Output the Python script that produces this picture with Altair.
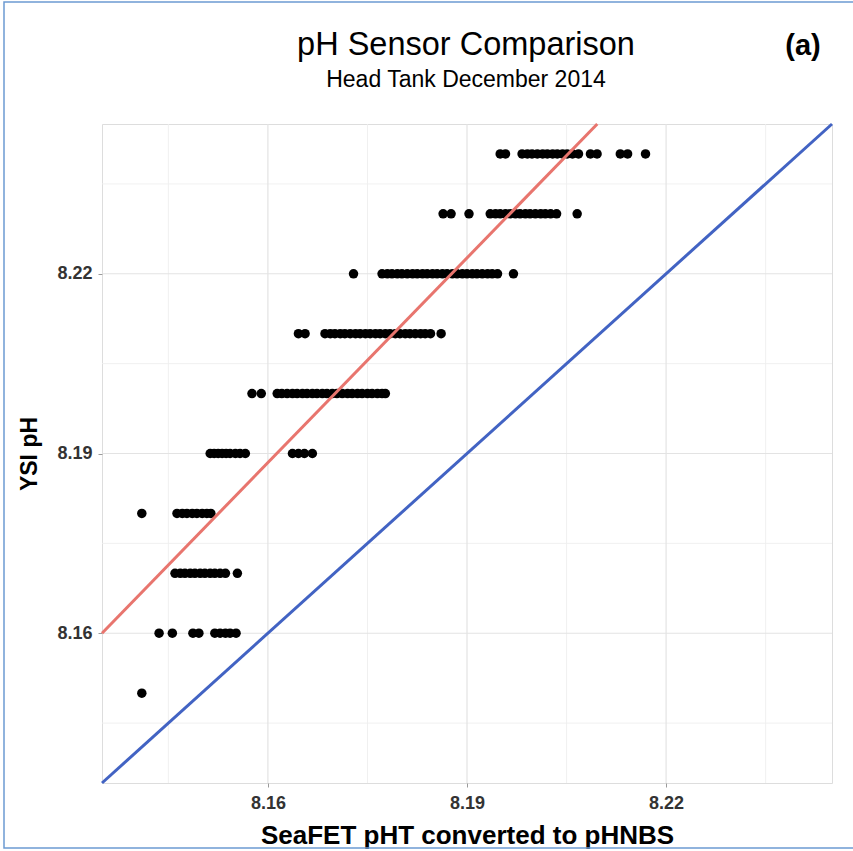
import altair as alt
import numpy as np
import pandas as pd

# YSI readings come in 0.01 steps; for each level, the SeaFET values (pHNBS) logged with it
ysi_levels = [8.24, 8.23, 8.22, 8.21, 8.20, 8.19, 8.18, 8.17, 8.16, 8.15]

seafet_824 = [8.1950, 8.1958, 8.1983, 8.1991, 8.1998, 8.2006, 8.2014, 8.2021, 8.2029, 8.2036,
              8.2044, 8.2051, 8.2059, 8.2068, 8.2086, 8.2096, 8.2131, 8.2142, 8.2169]
seafet_823 = [8.1864, 8.1876, 8.1903, 8.1935, 8.1943, 8.1950, 8.1958, 8.1965, 8.1973, 8.1980,
              8.1988, 8.1995, 8.2003, 8.2011, 8.2018, 8.2026, 8.2035, 8.2066]
seafet_822 = [8.1729, 8.1772, 8.1780, 8.1787, 8.1795, 8.1802, 8.1810, 8.1818, 8.1825, 8.1833,
              8.1840, 8.1848, 8.1855, 8.1863, 8.1870, 8.1878, 8.1885, 8.1893, 8.1900, 8.1908,
              8.1915, 8.1923, 8.1931, 8.1938, 8.1946, 8.1970]
seafet_821 = [8.1646, 8.1656, 8.1686, 8.1694, 8.1701, 8.1709, 8.1716, 8.1724, 8.1732, 8.1739,
              8.1747, 8.1754, 8.1762, 8.1769, 8.1777, 8.1784, 8.1792, 8.1799, 8.1807, 8.1814,
              8.1822, 8.1830, 8.1837, 8.1845, 8.1861]
seafet_820 = [8.1576, 8.1590, 8.1614, 8.1621, 8.1629, 8.1637, 8.1644, 8.1652, 8.1659, 8.1667,
              8.1674, 8.1682, 8.1689, 8.1697, 8.1704, 8.1712, 8.1720, 8.1727, 8.1735, 8.1742,
              8.1750, 8.1757, 8.1765, 8.1772, 8.1777]
seafet_819 = [8.1513, 8.1519, 8.1525, 8.1531, 8.1537, 8.1543, 8.1551, 8.1558, 8.1566,
              8.1637, 8.1646, 8.1655, 8.1667]
seafet_818 = [8.1410, 8.1463, 8.1471, 8.1478, 8.1486, 8.1493, 8.1501, 8.1508, 8.1514]
seafet_817 = [8.1460, 8.1468, 8.1475, 8.1483, 8.1490, 8.1498, 8.1505, 8.1513, 8.1520, 8.1528,
              8.1536, 8.1554]
seafet_816 = [8.1436, 8.1456, 8.1487, 8.1496, 8.1520, 8.1528, 8.1536, 8.1543, 8.1552]
seafet_815 = [8.1410]

seafet_rows = [seafet_824, seafet_823, seafet_822, seafet_821, seafet_820,
               seafet_819, seafet_818, seafet_817, seafet_816, seafet_815]

# Axis range, ticks and gridlines
axis_range = [8.135, 8.245]
major_ticks = [8.16, 8.19, 8.22]
minor_grid = [8.145, 8.175, 8.205, 8.235]

# Fitted relation (red): passes 8.16 at the left edge of the range
fit_anchor_x = 8.135
fit_anchor_y = 8.16
fit_slope = 1.139

points = pd.DataFrame(
    [(x, y) for y, row in zip(ysi_levels, seafet_rows) for x in row],
    columns=["seafet", "ysi"],
)

one_to_one = pd.DataFrame({"seafet": axis_range, "ysi": axis_range})

fit_x_end = fit_anchor_x + (axis_range[1] - fit_anchor_y) / fit_slope
fit_x = np.array([fit_anchor_x, fit_x_end])
fit_line = pd.DataFrame({"seafet": fit_x, "ysi": fit_anchor_y + fit_slope * (fit_x - fit_anchor_x)})

FONT = "Liberation Sans"
xs = alt.Scale(domain=axis_range, nice=False, zero=False)
ys = alt.Scale(domain=axis_range, nice=False, zero=False)

x_axis = alt.Axis(
    values=major_ticks, format=".2f", grid=False, domain=False,
    labelFont=FONT, labelFontSize=18, labelFontWeight="bold", labelColor="#333333",
    labelPadding=7, tickColor="#9a9a9a", tickSize=4,
    title="SeaFET pHT converted to pHNBS", titleFont=FONT, titleFontSize=26,
    titleFontWeight="bold", titleColor="#000000", titlePadding=10,
)
y_axis = alt.Axis(
    values=major_ticks, format=".2f", grid=False, domain=False,
    labelFont=FONT, labelFontSize=18, labelFontWeight="bold", labelColor="#333333",
    labelPadding=6, tickColor="#9a9a9a", tickSize=4,
    title="YSI pH", titleFont=FONT, titleFontSize=23,
    titleFontWeight="bold", titleColor="#000000", titlePadding=15,
)


def xenc(field):
    return alt.X(field, scale=xs, axis=x_axis)


def yenc(field):
    return alt.Y(field, scale=ys, axis=y_axis)


grid_major_v = alt.Chart(pd.DataFrame({"v": major_ticks})).mark_rule(
    color="#e3e3e3", strokeWidth=1.2
).encode(x=xenc("v:Q"))
grid_minor_v = alt.Chart(pd.DataFrame({"v": minor_grid})).mark_rule(
    color="#eeeeee", strokeWidth=0.9
).encode(x=xenc("v:Q"))
grid_major_h = alt.Chart(pd.DataFrame({"v": major_ticks})).mark_rule(
    color="#e3e3e3", strokeWidth=1.2
).encode(y=yenc("v:Q"))
grid_minor_h = alt.Chart(pd.DataFrame({"v": minor_grid})).mark_rule(
    color="#eeeeee", strokeWidth=0.9
).encode(y=yenc("v:Q"))

dots = alt.Chart(points).mark_circle(size=90, color="#000000", opacity=1).encode(
    x=xenc("seafet:Q"), y=yenc("ysi:Q")
)

blue = alt.Chart(one_to_one).mark_line(color="#4263c3", strokeWidth=3).encode(
    x=xenc("seafet:Q"), y=yenc("ysi:Q")
)
red = alt.Chart(fit_line).mark_line(color="#e8756e", strokeWidth=3).encode(
    x=xenc("seafet:Q"), y=yenc("ysi:Q")
)

# Heading, subheading and panel tag as text marks placed above the plot
headings = pd.DataFrame({
    "t": ["pH Sensor Comparison", "Head Tank December 2014"],
})
title_text = alt.Chart(headings.iloc[[0]]).mark_text(
    font=FONT, fontSize=32.5, color="#000000", align="center", baseline="alphabetic",
).encode(text="t:N", x=alt.value(364), y=alt.value(-69))
subtitle_text = alt.Chart(headings.iloc[[1]]).mark_text(
    font=FONT, fontSize=23, color="#000000", align="center", baseline="alphabetic",
).encode(text="t:N", x=alt.value(364), y=alt.value(-37))

panel_tag = alt.Chart(pd.DataFrame({"t": ["(a)"]})).mark_text(
    font=FONT, fontSize=29, fontWeight="bold", color="#000000",
    align="center", baseline="middle",
).encode(text="t:N", x=alt.value(701), y=alt.value(-78))

frame = alt.Chart(pd.DataFrame({"k": [0]})).mark_rect(
    fillOpacity=0, stroke="#6c9bd2", strokeWidth=1.5
).encode(x=alt.value(-98), x2=alt.value(760), y=alt.value(-122), y2=alt.value(724))

chart = alt.layer(
    grid_minor_v, grid_minor_h, grid_major_v, grid_major_h,
    dots, red, blue, title_text, subtitle_text, panel_tag, frame,
).properties(
    width=730,
    height=659,
    padding={"left": 102, "top": 124, "right": 21, "bottom": 68},
    autosize=alt.AutoSizeParams(type="none"),
).configure_view(
    stroke="#b8b8b8", strokeWidth=1
).configure(background="#ffffff")

chart.save("out.html", embed_options={"renderer": "svg", "actions": False})
